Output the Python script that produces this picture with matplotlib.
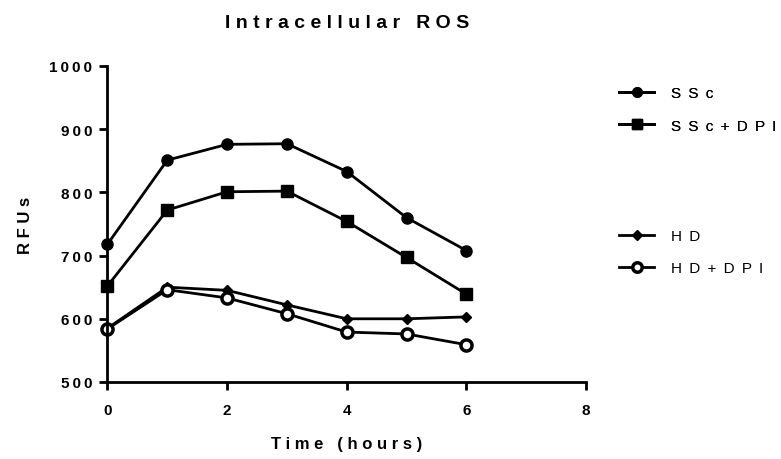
import matplotlib.pyplot as plt
import matplotlib.ticker as mticker

plt.rcParams['font.family'] = ['Liberation Sans', 'DejaVu Sans']

hours = [0, 1, 2, 3, 4, 5, 6]
ssc = [718, 851, 876, 877, 833, 760, 708]
ssc_dpi = [652, 772, 801, 802, 754, 697, 639]
hd = [585, 650, 645, 622, 600, 600, 603]
hd_dpi = [584, 646, 633, 608, 579, 576, 559]


def tracked(s, sep=" "):
    # Prism-style wide letter spacing
    return sep.join(s)


fig = plt.figure(figsize=(7.81, 4.6), dpi=100)
ax = fig.add_axes([0.1376, 0.1674, 0.6127, 0.687])

kw = dict(color="k", lw=2, clip_on=False)
l1, = ax.plot(hours, ssc, marker="o", ms=8, label=tracked("SSc", " \u2009"), **kw)
l2, = ax.plot(hours, ssc_dpi, marker="s", ms=8, label=tracked("SSc+DPI", " \u2009"), **kw)
l3, = ax.plot(hours, hd, marker="D", ms=5.5, label=tracked("HD", " \u2009"), **kw)
l4, = ax.plot(hours, hd_dpi, marker="o", ms=8, mfc="white", mew=2.5,
              label=tracked("HD+DPI", " \u2009"), **kw)

ax.set_xlim(0, 8)
ax.set_ylim(500, 1000)
ax.set_xticks([0, 2, 4, 6, 8])
ax.set_yticks([500, 600, 700, 800, 900, 1000])
ax.yaxis.set_major_formatter(mticker.FuncFormatter(lambda v, p: tracked(f"{v:.0f}", "\u2009")))
for s in ["top", "right"]:
    ax.spines[s].set_visible(False)
for s in ["left", "bottom"]:
    ax.spines[s].set_linewidth(2)
ax.tick_params(width=2, length=6, labelsize=11)
ax.tick_params(axis="x", pad=9)
ax.tick_params(axis="y", pad=5)
for lab in ax.get_xticklabels() + ax.get_yticklabels():
    lab.set_fontweight("bold")

ax.set_title(tracked("Intracellular ROS"), fontsize=14, fontweight="bold", pad=28)
ax.set_xlabel(tracked("Time (hours)"), fontsize=12, fontweight="bold", labelpad=14)
ax.set_ylabel(tracked("RFUs"), fontsize=12, fontweight="bold", labelpad=12)

leg_kw = dict(loc="upper left", frameon=False, fontsize=11, handlelength=2.3,
              handletextpad=1.1, labelspacing=1.2, markerscale=0.85)
leg1 = fig.legend(handles=[l1, l2], bbox_to_anchor=(0.775, 0.84), **leg_kw)
fig.add_artist(leg1)
fig.legend(handles=[l3, l4], bbox_to_anchor=(0.775, 0.53), **leg_kw)

plt.savefig("out.png", dpi=100)
